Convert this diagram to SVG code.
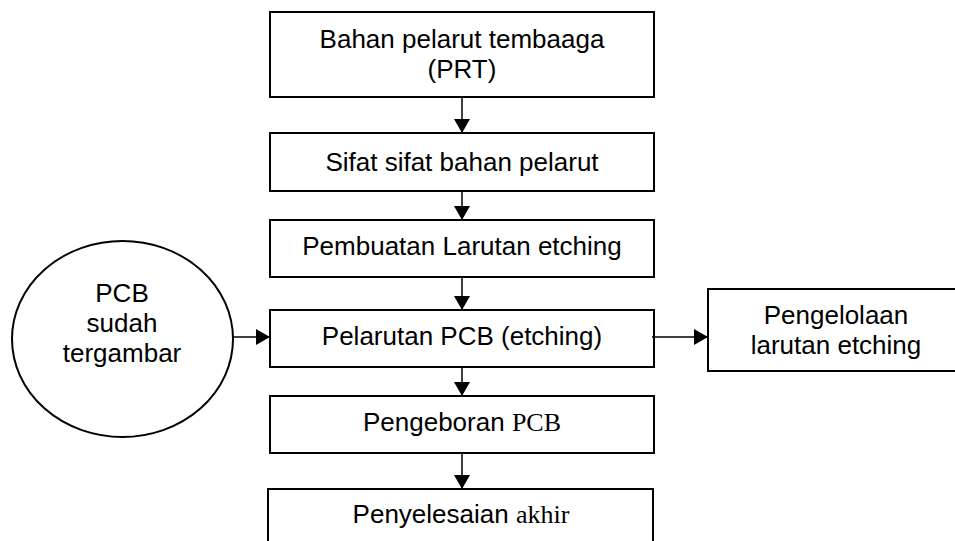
<svg xmlns="http://www.w3.org/2000/svg" width="955" height="541" viewBox="0 0 955 541">
<defs>
<style>
.box{fill:#fff;stroke:#000;stroke-width:2}
.t{font-family:"Liberation Sans",Arial,sans-serif;font-size:26px;fill:#000;text-anchor:middle}
.serif{font-family:"Liberation Serif","Times New Roman",serif}
.c{stroke:#000;stroke-width:1.5;fill:none;marker-end:url(#ah)}
</style>
<marker id="ah" markerUnits="userSpaceOnUse" markerWidth="14" markerHeight="16" viewBox="0 0 14 16" refX="14" refY="8" orient="auto">
<path d="M0,0 L14,8 L0,16 z" fill="#000"/>
</marker>
</defs>
<rect width="955" height="541" fill="#fff"/>
<g id="n1"><rect class="box" x="270" y="12" width="384" height="85"/><text class="t" x="462" y="48">Bahan pelarut tembaaga</text><text class="t" x="462" y="78">(PRT)</text></g>
<g id="n2"><rect class="box" x="270" y="133" width="384" height="58"/><text class="t" x="462" y="171">Sifat sifat bahan pelarut</text></g>
<g id="n3"><rect class="box" x="270" y="220" width="384" height="57"/><text class="t" x="462" y="255">Pembuatan Larutan etching</text></g>
<g id="n4"><rect class="box" x="270" y="310" width="384" height="57"/><text class="t" x="462" y="345">Pelarutan PCB (etching)</text></g>
<g id="n5"><rect class="box" x="270" y="396" width="384" height="57"/><text class="t" x="462" y="431">Pengeboran <tspan class="serif">PCB</tspan></text></g>
<g id="n6"><rect class="box" x="268" y="489" width="385" height="70"/><text class="t" x="461" y="523">Penyelesaian <tspan class="serif">akhir</tspan></text></g>
<g id="n7"><ellipse class="box" cx="122.5" cy="339" rx="110.5" ry="98"/><text class="t" x="122" y="302">PCB</text><text class="t" x="122" y="332">sudah</text><text class="t" x="122" y="362">tergambar</text></g>
<g id="n8"><rect class="box" x="708" y="289" width="260" height="82"/><text class="t" x="836" y="324">Pengelolaan</text><text class="t" x="836" y="354">larutan etching</text></g>
<g id="connectors">
<line class="c" x1="462" y1="97" x2="462" y2="133"/>
<line class="c" x1="462" y1="191" x2="462" y2="220"/>
<line class="c" x1="462" y1="277" x2="462" y2="310"/>
<line class="c" x1="462" y1="367" x2="462" y2="396"/>
<line class="c" x1="462" y1="453" x2="462" y2="489"/>
<line class="c" x1="233" y1="337" x2="270" y2="337"/>
<line class="c" x1="652" y1="337" x2="708" y2="337"/>
</g>
</svg>
